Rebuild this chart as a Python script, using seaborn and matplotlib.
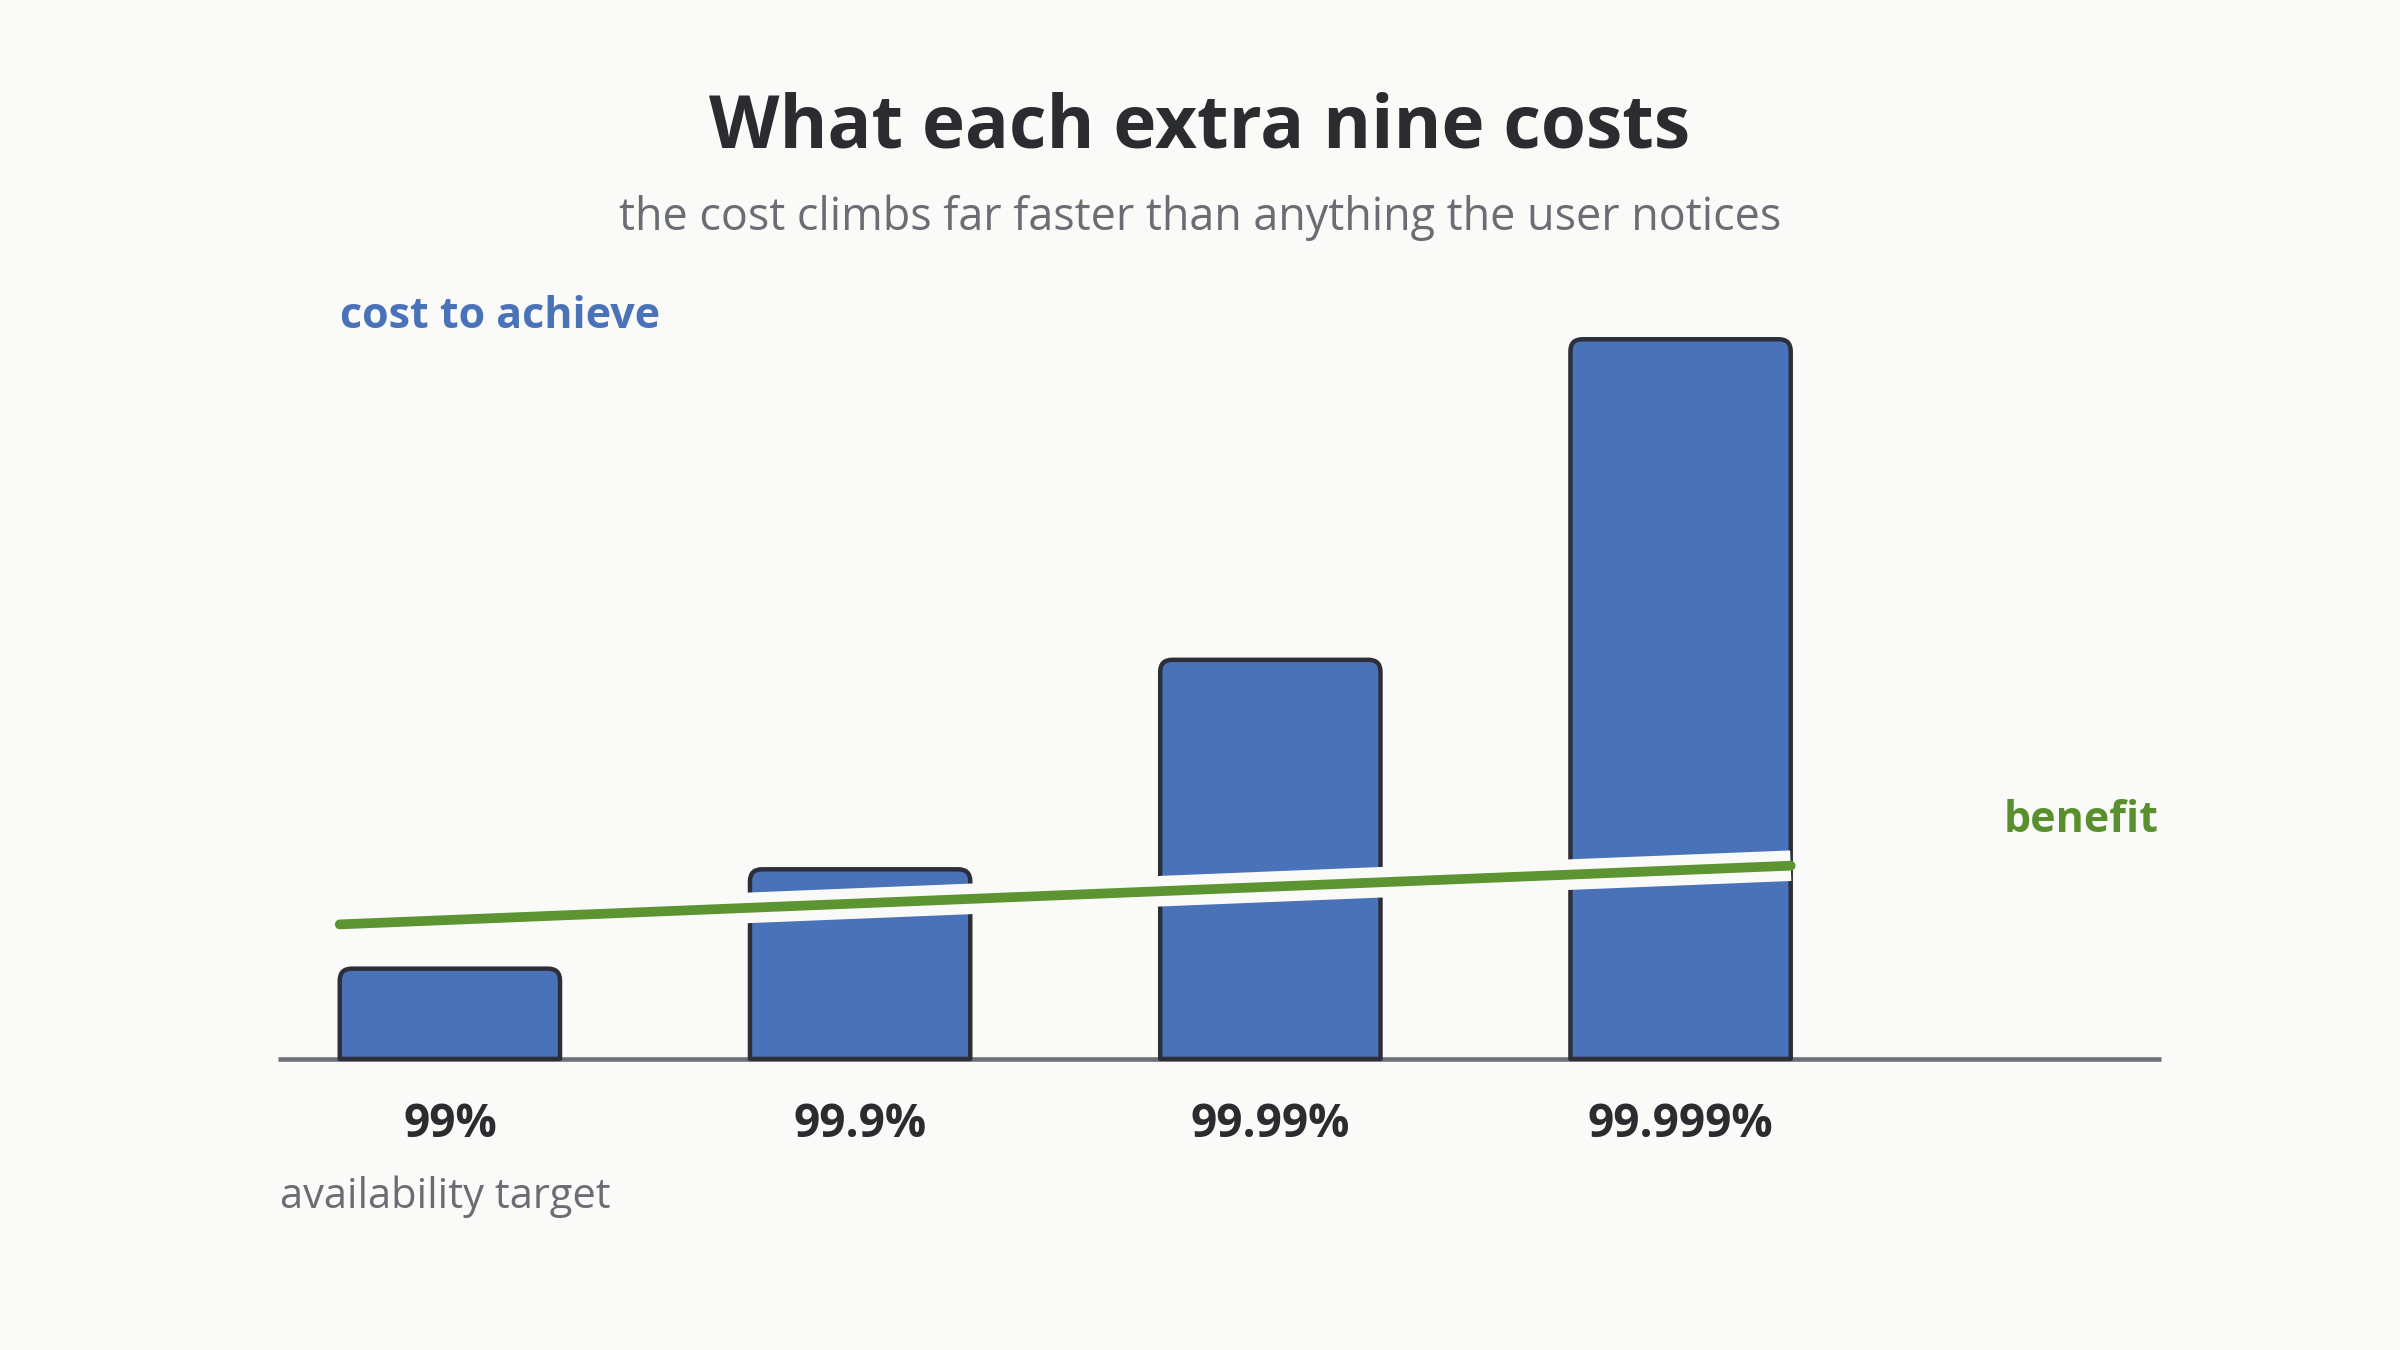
import matplotlib
matplotlib.use("Agg")
import matplotlib.pyplot as plt
import seaborn as sns
from matplotlib.path import Path
from matplotlib.patches import PathPatch
import matplotlib.patheffects as pe

# ---- data ----
targets = ["99%", "99.9%", "99.99%", "99.999%"]
cost = [1.0, 2.1, 4.42, 7.97]          # relative cost to achieve
benefit = [1.49, 2.14]                 # benefit at the first and last target edge

# ---- style ----
BG = "#fafaf8"
BLUE = "#4a72b8"
EDGE = "#2c2e38"
GREEN = "#5b9431"
GREEN_TXT = "#5a8f2e"
AXIS = "#6e7079"
DARK = "#2b2c30"
GRAY = "#6b6d75"

sns.set_theme(style="white")
plt.rcParams['font.family'] = ['Open Sans', 'DejaVu Sans']

fig = plt.figure(figsize=(24, 13.5), dpi=100, facecolor=BG)
ax = fig.add_axes([0.116, 0.2156, 0.7844, 0.602])
ax.set_facecolor(BG)

sns.barplot(x=targets, y=cost, ax=ax, color=BLUE, width=0.537, saturation=1)
ax.set_xlim(-0.418, 4.171)
ax.set_ylim(0, 9)

# replace bars with top-rounded versions
px_x = ax.bbox.width / (4.171 + 0.418)
px_y = ax.bbox.height / 9.0
r_px = 12
rx, ry = r_px / px_x, r_px / px_y
bars = list(ax.patches)
edges = []
for b in bars:
    x0, y0 = b.get_x(), b.get_y()
    x1, y1 = x0 + b.get_width(), y0 + b.get_height()
    edges.append((x0, x1))
    verts = [(x0, y0), (x0, y1 - ry), (x0, y1), (x0 + rx, y1),
             (x1 - rx, y1), (x1, y1), (x1, y1 - ry), (x1, y0), (x0, y0)]
    codes = [Path.MOVETO, Path.LINETO, Path.CURVE3, Path.CURVE3,
             Path.LINETO, Path.CURVE3, Path.CURVE3, Path.LINETO, Path.CLOSEPOLY]
    p = PathPatch(Path(verts, codes), facecolor=BLUE, edgecolor=EDGE,
                  linewidth=3.2, joinstyle='round', zorder=3, clip_on=False)
    ax.add_patch(p)
    b.remove()

ax.axhline(0, color=AXIS, lw=3.3, zorder=2, clip_on=False, solid_capstyle='butt')

# benefit line
line_x = [edges[0][0], edges[-1][1]]
sns.lineplot(x=line_x, y=benefit, ax=ax, color=GREEN, lw=7, zorder=5,
             solid_capstyle='round', sort=False,
             path_effects=[pe.Stroke(linewidth=22, foreground=BG, capstyle='butt'), pe.Normal()])
ax.set_xlim(-0.418, 4.171)
ax.set_ylim(0, 9)

for s in ax.spines.values():
    s.set_visible(False)
ax.set_yticks([])
ax.set_xticks(range(len(targets)))
ax.set_xticklabels(targets, fontsize=33, fontweight='bold', color=DARK)
ax.tick_params(axis='x', length=0, pad=30)
ax.set_xlabel("")
ax.set_ylabel("")

fig.text(0.5, 1 - 128 / 1350, "What each extra nine costs", ha='center', va='center',
         fontsize=52.5, fontweight='bold', color=DARK)
fig.text(0.5, 1 - 218 / 1350, "the cost climbs far faster than anything the user notices",
         ha='center', va='center', fontsize=32.3, color=GRAY)
fig.text(340 / 2400, 1 - 316 / 1350, "cost to achieve", ha='left', va='center',
         fontsize=31, fontweight='bold', color=BLUE)
fig.text(2159 / 2400, 1 - 820 / 1350, "benefit", ha='right', va='center',
         fontsize=31, fontweight='bold', color=GREEN_TXT)
fig.text(280 / 2400, 1 - 1197 / 1350, "availability target", ha='left', va='center',
         fontsize=30, color=GRAY)

fig.savefig("out.png", dpi=100, facecolor=BG)
